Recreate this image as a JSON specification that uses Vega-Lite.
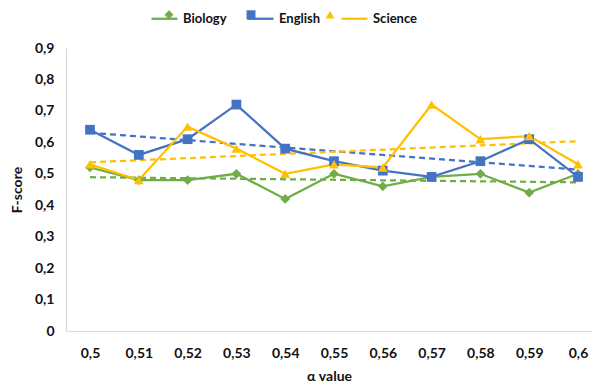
{
  "$schema": "https://vega.github.io/schema/vega-lite/v6.json",
  "autosize": {"type": "none"},
  "padding": {"left": 66, "top": 48, "right": 0, "bottom": 57},
  "width": 526,
  "height": 283,
  "background": "white",
  "data": {
    "values": [
      {"alpha": 0.5, "subject": "Biology", "marker": "bio", "fscore": 0.52},
      {"alpha": 0.51, "subject": "Biology", "marker": "bio", "fscore": 0.48},
      {"alpha": 0.52, "subject": "Biology", "marker": "bio", "fscore": 0.48},
      {"alpha": 0.53, "subject": "Biology", "marker": "bio", "fscore": 0.50},
      {"alpha": 0.54, "subject": "Biology", "marker": "bio", "fscore": 0.42},
      {"alpha": 0.55, "subject": "Biology", "marker": "bio", "fscore": 0.50},
      {"alpha": 0.56, "subject": "Biology", "marker": "bio", "fscore": 0.46},
      {"alpha": 0.57, "subject": "Biology", "marker": "bio", "fscore": 0.49},
      {"alpha": 0.58, "subject": "Biology", "marker": "bio", "fscore": 0.50},
      {"alpha": 0.59, "subject": "Biology", "marker": "bio", "fscore": 0.44},
      {"alpha": 0.6, "subject": "Biology", "marker": "bio", "fscore": 0.50},
      {"alpha": 0.5, "subject": "English", "marker": "eng", "fscore": 0.64},
      {"alpha": 0.51, "subject": "English", "marker": "eng", "fscore": 0.56},
      {"alpha": 0.52, "subject": "English", "marker": "eng", "fscore": 0.61},
      {"alpha": 0.53, "subject": "English", "marker": "eng", "fscore": 0.72},
      {"alpha": 0.54, "subject": "English", "marker": "eng", "fscore": 0.58},
      {"alpha": 0.55, "subject": "English", "marker": "eng", "fscore": 0.54},
      {"alpha": 0.56, "subject": "English", "marker": "eng", "fscore": 0.51},
      {"alpha": 0.57, "subject": "English", "marker": "eng", "fscore": 0.49},
      {"alpha": 0.58, "subject": "English", "marker": "eng", "fscore": 0.54},
      {"alpha": 0.59, "subject": "English", "marker": "eng", "fscore": 0.61},
      {"alpha": 0.6, "subject": "English", "marker": "eng", "fscore": 0.49},
      {"alpha": 0.5, "subject": "Science", "marker": "sci", "fscore": 0.53},
      {"alpha": 0.51, "subject": "Science", "marker": "sci", "fscore": 0.48},
      {"alpha": 0.52, "subject": "Science", "marker": "sci", "fscore": 0.65},
      {"alpha": 0.53, "subject": "Science", "marker": "sci", "fscore": 0.58},
      {"alpha": 0.54, "subject": "Science", "marker": "sci", "fscore": 0.50},
      {"alpha": 0.55, "subject": "Science", "marker": "sci", "fscore": 0.53},
      {"alpha": 0.56, "subject": "Science", "marker": "sci", "fscore": 0.52},
      {"alpha": 0.57, "subject": "Science", "marker": "sci", "fscore": 0.72},
      {"alpha": 0.58, "subject": "Science", "marker": "sci", "fscore": 0.61},
      {"alpha": 0.59, "subject": "Science", "marker": "sci", "fscore": 0.62},
      {"alpha": 0.6, "subject": "Science", "marker": "sci", "fscore": 0.53}
    ]
  },
  "encoding": {
    "x": {
      "field": "alpha",
      "type": "quantitative",
      "scale": {"domain": [0.49508, 0.60287], "nice": false, "zero": false},
      "axis": {
        "values": [0.5, 0.51, 0.52, 0.53, 0.54, 0.55, 0.56, 0.57, 0.58, 0.59, 0.6],
        "labelExpr": "replace(toString(datum.value), '.', ',')",
        "grid": false,
        "ticks": false,
        "domainColor": "#d9d9d9",
        "domainWidth": 1,
        "labelPadding": 15,
        "labelFont": "Lato",
        "labelFontSize": 14,
        "labelFontWeight": "bold",
        "labelColor": "#111111",
        "title": "α value",
        "titleFont": "Lato",
        "titleFontSize": 14,
        "titleFontWeight": "bold",
        "titleColor": "#111111",
        "titlePadding": 9
      }
    },
    "y": {
      "field": "fscore",
      "type": "quantitative",
      "scale": {"domain": [0, 0.9], "nice": false},
      "axis": {
        "values": [0, 0.1, 0.2, 0.3, 0.4, 0.5, 0.6, 0.7, 0.8, 0.9],
        "labelExpr": "replace(toString(datum.value), '.', ',')",
        "grid": false,
        "ticks": false,
        "domainColor": "#d9d9d9",
        "domainWidth": 1,
        "labelPadding": 12,
        "labelFont": "Lato",
        "labelFontSize": 14,
        "labelFontWeight": "bold",
        "labelColor": "#111111",
        "title": "F-score",
        "titleFont": "Lato",
        "titleFontSize": 14,
        "titleFontWeight": "bold",
        "titleColor": "#111111",
        "titlePadding": 10
      }
    },
    "color": {
      "field": "subject",
      "type": "nominal",
      "scale": {"domain": ["Biology", "English", "Science"], "range": ["#70AD47", "#4472C4", "#FFC000"]},
      "legend": {
        "orient": "none",
        "legendX": 84,
        "legendY": -44,
        "direction": "horizontal",
        "title": null,
        "symbolType": "stroke",
        "symbolStrokeWidth": 2.25,
        "symbolSize": 676,
        "labelFont": "Lato",
        "labelFontSize": 13,
        "labelFontWeight": "bold",
        "labelColor": "#111111",
        "columnPadding": 16,
        "labelOffset": 4
      }
    }
  },
  "layer": [
    {
      "transform": [{"regression": "fscore", "on": "alpha", "groupby": ["subject"]}],
      "mark": {"type": "line", "strokeDash": [6, 4], "strokeWidth": 2.25}
    },
    {
      "mark": {"type": "line", "strokeWidth": 2.25}
    },
    {
      "mark": {"type": "point", "filled": true, "opacity": 1, "size": 95},
      "encoding": {
        "fill": {
          "field": "marker",
          "type": "nominal",
          "scale": {"domain": ["bio", "eng", "sci"], "range": ["#70AD47", "#4472C4", "#FFC000"]},
          "legend": {
            "orient": "none",
            "legendX": 96.5,
            "legendY": -40,
            "direction": "horizontal",
            "title": null,
            "symbolSize": 80,
            "symbolStrokeWidth": 0,
            "symbolOpacity": 1,
            "labelExpr": "datum.label == 'bio' ? 'Biology' : datum.label == 'eng' ? 'English' : 'Science'",
            "labelFont": "Lato",
            "labelFontSize": 13,
            "labelFontWeight": "bold",
            "labelOpacity": 0,
            "columnPadding": 16,
            "labelOffset": 8.5
          }
        },
        "shape": {
          "field": "marker",
          "type": "nominal",
          "scale": {"domain": ["bio", "eng", "sci"], "range": ["diamond", "square", "triangle-up"]},
          "legend": {
            "orient": "none",
            "legendX": 96.5,
            "legendY": -40,
            "direction": "horizontal",
            "title": null,
            "symbolSize": 80,
            "symbolStrokeWidth": 0,
            "symbolOpacity": 1,
            "labelExpr": "datum.label == 'bio' ? 'Biology' : datum.label == 'eng' ? 'English' : 'Science'",
            "labelFont": "Lato",
            "labelFontSize": 13,
            "labelFontWeight": "bold",
            "labelOpacity": 0,
            "columnPadding": 16,
            "labelOffset": 8.5
          }
        }
      }
    }
  ],
  "config": {"view": {"stroke": null}}
}
